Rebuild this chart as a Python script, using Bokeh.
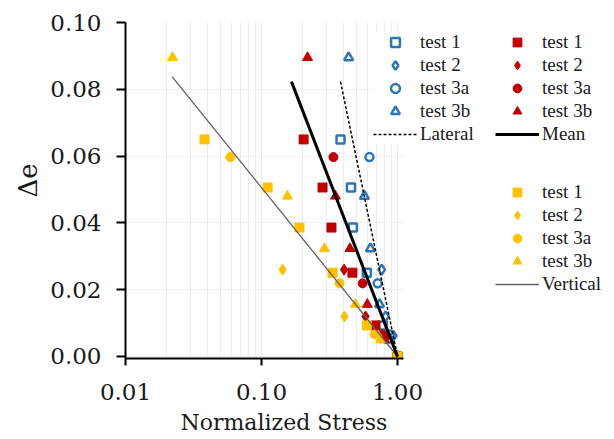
from bokeh.plotting import figure
from bokeh.models import (Range1d, FixedTicker, NumeralTickFormatter, Legend,
                          LegendItem, Title)
from bokeh.embed import file_html
from bokeh.resources import INLINE

# Void-ratio change levels for each test (shared by the three stress measures)
test1_de = [0.065, 0.0506, 0.0386, 0.0251, 0.0093, 0.0]
test2_de = [0.026, 0.012, 0.0062, 0.0]
test3a_de = [0.0597, 0.0219, 0.0066, 0.0]
test3b_de = [0.0895, 0.048, 0.0323, 0.0156, 0.005, 0.0]

# Normalized lateral stress
lat_test1 = [0.381, 0.455, 0.47, 0.595, 0.78, 1.0]
lat_test2 = [0.765, 0.817, 0.93, 1.0]
lat_test3a = [0.622, 0.715, 0.88, 1.0]
lat_test3b = [0.437, 0.571, 0.632, 0.738, 0.86, 1.0]

# Normalized mean stress
mean_test1 = [0.204, 0.281, 0.327, 0.466, 0.689, 1.0]
mean_test2 = [0.405, 0.582, 0.84, 1.0]
mean_test3a = [0.338, 0.554, 0.776, 1.0]
mean_test3b = [0.218, 0.35, 0.447, 0.60, 0.80, 1.0]

# Normalized vertical stress
vert_test1 = [0.0381, 0.111, 0.19, 0.333, 0.595, 1.0]
vert_test2 = [0.143, 0.407, 0.72, 1.0]
vert_test3a = [0.059, 0.375, 0.678, 1.0]
vert_test3b = [0.0222, 0.155, 0.29, 0.491, 0.75, 1.0]

# Trend lines
lateral_x = [0.381, 1.0]
lateral_y = [0.0823, 0.0]
mean_x = [0.166, 1.0]
mean_y = [0.0823, 0.0]
vertical_x = [0.022, 1.0]
vertical_y = [0.0838, 0.0]

test_names = ["test 1", "test 2", "test 3a", "test 3b"]
x_ticks = [0.01, 0.1, 1.0]
y_ticks = [0.0, 0.02, 0.04, 0.06, 0.08, 0.10]
x_title = "Normalized Stress"
y_title = "Δe"

BLUE = "#2E75B6"
RED = "#C00000"
YELLOW = "#FFC000"
AXIS_FONT = "DejaVu Serif"
LEGEND_FONT = "Liberation Serif"
TEXT = "#1a1a1a"

X_AXIS_END = 1.107   # where the drawn axis stops
# the frame runs on to the right edge so that the legends sit inside it
p = figure(width=614, height=439, x_axis_type="log",
           x_range=Range1d(0.01, 39.4), y_range=Range1d(-0.0006, 0.1),
           output_backend="svg", toolbar_location=None,
           min_border_left=125, min_border_right=0,
           min_border_top=22, min_border_bottom=81)
p.outline_line_color = None

# axes
minor = [m * d for d in (0.01, 0.1) for m in range(2, 10)]
xa = p.xaxis[0]
xa.ticker = FixedTicker(ticks=x_ticks, minor_ticks=minor)
xa.formatter = NumeralTickFormatter(format="0.00")
xa.bounds = (0.01, X_AXIS_END)
xa.major_tick_out = 7
xa.major_tick_in = 0
xa.minor_tick_line_color = None
xa.major_label_standoff = 18

ya = p.yaxis[0]
ya.ticker = FixedTicker(ticks=y_ticks)
ya.formatter = NumeralTickFormatter(format="0.00")
ya.major_tick_out = 9
ya.major_tick_in = 0
ya.minor_tick_line_color = None
ya.major_label_standoff = 15

for ax in (xa, ya):
    ax.axis_line_width = 2
    ax.axis_line_color = "black"
    ax.major_tick_line_width = 2
    ax.major_tick_line_color = "black"
    ax.major_label_text_font = AXIS_FONT
    ax.major_label_text_font_size = "23px"
    ax.major_label_text_color = TEXT

# axis titles, placed along the drawn part of each axis
p.add_layout(Title(text=x_title, align="left", offset=55, standoff=10,
                   text_font=AXIS_FONT, text_font_size="22px",
                   text_font_style="normal", text_color=TEXT), "below")
p.add_layout(Title(text=y_title, align="left", offset=161, standoff=10,
                   text_font=AXIS_FONT, text_font_size="26px",
                   text_font_style="normal", text_color=TEXT), "left")

p.xgrid.grid_line_color = "#ececec"
p.xgrid.minor_grid_line_color = "#ececec"
p.ygrid.grid_line_color = "#efefef"
p.ygrid.cross_bounds = (0.01, X_AXIS_END)

markers = ["square", "diamond", "circle", "triangle"]
sizes = [9, 11, 9, 10]
de_sets = [test1_de, test2_de, test3a_de, test3b_de]


def series(xsets, color, hollow):
    rends = []
    for xs, ys, mk, sz in zip(xsets, de_sets, markers, sizes):
        if hollow:
            r = p.scatter(xs, ys, marker=mk, size=sz - 1, line_color=color,
                          line_width=2.5, fill_alpha=0)
        else:
            r = p.scatter(xs, ys, marker=mk, size=sz, line_color=color,
                          fill_color=color, line_width=1)
        rends.append(r)
    return rends


blue = series([lat_test1, lat_test2, lat_test3a, lat_test3b], BLUE, True)
red = series([mean_test1, mean_test2, mean_test3a, mean_test3b], RED, False)
yellow = series([vert_test1, vert_test2, vert_test3a, vert_test3b], YELLOW, False)

vert_line = p.line(vertical_x, vertical_y, line_color="#606060", line_width=1.3)
lat_line = p.line(lateral_x, lateral_y, line_color="black", line_width=1.5,
                  line_dash="3 2")
mean_line = p.line(mean_x, mean_y, line_color="black", line_width=3)


def add_legend(rends, line_rend, line_name, loc):
    items = [LegendItem(label=n, renderers=[r]) for n, r in zip(test_names, rends)]
    items.append(LegendItem(label=line_name, renderers=[line_rend]))
    lg = Legend(items=items, location=loc, orientation="vertical",
                glyph_width=44, glyph_height=22, label_height=22,
                spacing=1, padding=0, margin=0, label_standoff=3,
                border_line_color=None, background_fill_color="white",
                background_fill_alpha=1.0,
                label_text_font=LEGEND_FONT, label_text_font_size="19px",
                label_text_color=TEXT)
    p.add_layout(lg)


add_legend(blue, lat_line, "Lateral", (248, 213))
add_legend(red, mean_line, "Mean", (370, 213))
add_legend(yellow, vert_line, "Vertical", (370, 63))

open("out.html", "w").write(file_html(p, INLINE))
